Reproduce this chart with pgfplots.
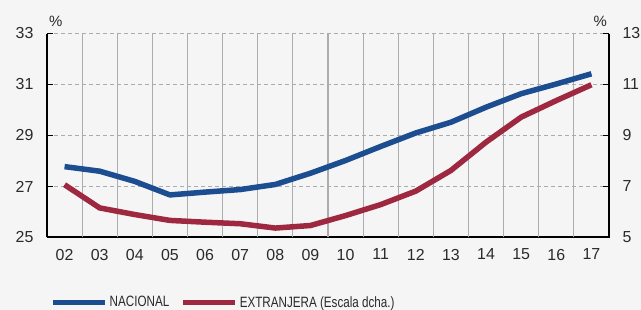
\documentclass[border=0pt]{standalone}
\usepackage{fontspec}
\setmainfont{Liberation Sans}
\newfontfamily\condensed[FakeStretch=0.78]{Liberation Sans}
\usepackage{pgfplots}
\pgfplotsset{compat=1.18}
\definecolor{bg}{HTML}{F5F5F5}
\definecolor{nacblue}{RGB}{28,77,145}
\definecolor{extred}{RGB}{158,40,64}
\definecolor{gridgray}{HTML}{ACACB0}
\definecolor{txt}{HTML}{2A2A2A}
\begin{document}
\begin{tikzpicture}
\useasboundingbox (0,0) rectangle (641bp,310bp);
\fill[bg] (0,0) rectangle (641bp,310bp);
\clip (0,0) rectangle (641bp,310bp);
\pgfplotsset{
  common/.style={
    scale only axis, width=562bp, height=204bp,
    at={(47bp,72.5bp)}, anchor=south west,
    xmin=-0.5, xmax=15.5,
    /pgf/number format/assume math mode=true,
    tick label style={font=\fontsize{16}{18}\selectfont, text=txt},
    axis line style={black, line width=2bp, -},
    ytick style={black, line width=1.2bp},
    major tick length=6bp, tick align=inside,
  }
}
\begin{axis}[common,
  axis y line*=left, axis x line*=bottom,
  ymin=25, ymax=33, ytick={25,27,29,31,33},
  xtick={0,...,15},
  xticklabels={02,03,04,05,06,07,08,09,10,11,12,13,14,15,16,17},
  xtick style={draw=none},
  xticklabel style={yshift=-8bp},
  yticklabel style={xshift=-10bp},
  extra x ticks={0.5,1.5,...,14.5},
  extra x tick labels={},
  extra x tick style={grid=major, major grid style={gridgray, line width=1.1bp, solid}, tick style={draw=none}},
  ymajorgrids, major grid style={gridgray, line width=0.9bp, dash pattern=on 4bp off 3bp},
  clip=false,
]
\addplot[nacblue, line width=5.5bp] coordinates {
(0,27.78) (1,27.60) (2,27.20) (3,26.67) (4,26.78) (5,26.88) (6,27.08) (7,27.52)
(8,28.02) (9,28.57) (10,29.10) (11,29.52) (12,30.11) (13,30.64) (14,31.02) (15,31.42)};
\node[anchor=south west, font=\fontsize{15}{17}\selectfont, text=txt, inner sep=0] at (rel axis cs:0,1) [yshift=7bp, xshift=2bp] {\%};
\end{axis}
\begin{axis}[common,
  axis y line*=right, axis x line=none,
  ymin=5, ymax=13, ytick={5,7,9,11,13},
  yticklabel style={xshift=10bp},
  clip=false,
  legend columns=2,
  legend style={draw=none, fill=none, at={(axis description cs:0.0,-0.318)}, anchor=west,
    font=\condensed\fontsize{15}{17}\selectfont, text=txt,
    /tikz/every even column/.style={column sep=9bp},
    nodes={inner xsep=2bp, inner ysep=0bp}},
  legend image code/.code={\draw[#1, line width=5.5bp] (0bp,0bp) -- (52bp,0bp);},
]
\addlegendimage{nacblue}
\addlegendentry{NACIONAL}
\addplot[extred, line width=5.5bp] coordinates {
(0,7.07) (1,6.16) (2,5.90) (3,5.67) (4,5.60) (5,5.54) (6,5.37) (7,5.47)
(8,5.86) (9,6.29) (10,6.82) (11,7.63) (12,8.74) (13,9.72) (14,10.37) (15,10.99)};
\addlegendentry{EXTRANJERA (Escala dcha.)}
\node[anchor=south east, font=\fontsize{15}{17}\selectfont, text=txt, inner sep=0] at (rel axis cs:1,1) [yshift=7bp, xshift=-2bp] {\%};
\end{axis}
\end{tikzpicture}
\end{document}
